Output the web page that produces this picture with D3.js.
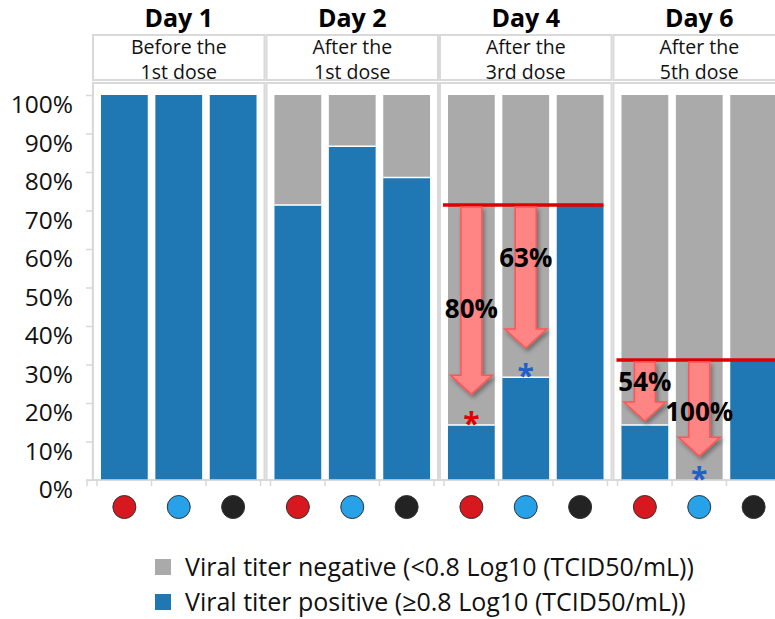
<!DOCTYPE html>
<html>
<head>
<meta charset="utf-8">
<script src="https://cdn.jsdelivr.net/npm/d3@7"></script>
<style>
  body { margin: 0; background: #fff; }
  svg { font-family: 'Open Sans', 'Noto Sans', sans-serif; }
</style>
</head>
<body>
<svg id="chart" width="775" height="619"></svg>
<script>
// panels (days) and their dose subtitles
const days = ['Day 1', 'Day 2', 'Day 4', 'Day 6'];
const doses = [
  ['Before the', '1st dose'],
  ['After the', '1st dose'],
  ['After the', '3rd dose'],
  ['After the', '5th dose']
];
// three groups per day, marked by a coloured dot under each bar
const groupColors = ['#d7191f', '#27a2e8', '#232323'];
// share of animals with positive viral titer (%), [day][group]
const positive = [
  [100, 100, 100],
  [71.4, 86.7, 78.6],
  [14.3, 26.7, 71.4],
  [14.3, 0, 31.2]
];
const yTicks = [0, 10, 20, 30, 40, 50, 60, 70, 80, 90, 100];
// reduction arrows vs. the control group (third bar) of the same day
const reductions = [
  {day: 2, bar: 0, to: 22.3, label: '80%', labelAt: 44.4},
  {day: 2, bar: 1, to: 34.3, label: '63%', labelAt: 57.7},
  {day: 3, bar: 0, to: 15.3, label: '54%', labelAt: 25.5},
  {day: 3, bar: 1, to: 6.2, label: '100%', labelAt: 17.7}
];
// significance markers
const stars = [
  {day: 2, bar: 0, color: '#e00000'},
  {day: 2, bar: 1, color: '#1f5fc8'},
  {day: 3, bar: 1, color: '#1f5fc8'}
];
const legendItems = [
  {label: 'Viral titer negative (<0.8 Log10 (TCID50/mL))', color: '#aaaaaa'},
  {label: 'Viral titer positive (\u22650.8 Log10 (TCID50/mL))', color: '#1f77b4'}
];

const colNeg = '#aaaaaa';
const colPos = '#1f77b4';
const gridCol = '#d9d9d9';

const svg = d3.select('#chart');

const y = d3.scaleLinear().domain([0, 100]).range([480, 95]);
const xDay = d3.scaleBand().domain(d3.range(days.length)).range([92, 786]);
const xBar = d3.scaleBand().domain(d3.range(3)).range([0, xDay.bandwidth()])
  .paddingInner(0.14).paddingOuter(0.165);

const barX = (d, b) => xDay(d) + xBar(b);
const barC = (d, b) => xDay(d) + xBar(b) + xBar.bandwidth() / 2;

// drop shadow for arrows
const defs = svg.append('defs');
const f = defs.append('filter').attr('id', 'shadow')
  .attr('x', '-50%').attr('y', '-20%').attr('width', '200%').attr('height', '150%');
f.append('feDropShadow').attr('dx', 2).attr('dy', 3).attr('stdDeviation', 2)
  .attr('flood-color', '#000').attr('flood-opacity', 0.35);

// panels
const panel = svg.selectAll('g.panel').data(days).join('g')
  .attr('class', 'panel')
  .attr('transform', (d, i) => `translate(${xDay(i)},0)`);

panel.append('rect')
  .attr('x', 1).attr('y', 35)
  .attr('width', xDay.bandwidth() - 2).attr('height', 45)
  .attr('fill', 'none').attr('stroke', gridCol).attr('stroke-width', 2);

panel.append('rect')
  .attr('x', 1).attr('y', 83)
  .attr('width', xDay.bandwidth() - 2).attr('height', y(0) - 83)
  .attr('fill', 'none').attr('stroke', gridCol).attr('stroke-width', 2);

panel.append('text')
  .attr('x', xDay.bandwidth() / 2).attr('y', 27)
  .attr('text-anchor', 'middle')
  .style('font-size', '25px').style('font-weight', 'bold')
  .text(d => d);

panel.each(function(d, i) {
  const g = d3.select(this);
  doses[i].forEach((line, k) => {
    g.append('text')
      .attr('x', xDay.bandwidth() / 2).attr('y', 54 + k * 25)
      .attr('text-anchor', 'middle')
      .style('font-size', '19.5px').attr('fill', '#111')
      .text(line);
  });
});

// stacked bars
const bars = [];
positive.forEach((row, d) => row.forEach((v, b) => bars.push({d, b, v})));

svg.append('g').selectAll('rect').data(bars).join('rect')
  .attr('x', p => barX(p.d, p.b)).attr('width', xBar.bandwidth())
  .attr('y', y(100)).attr('height', p => y(p.v) - y(100))
  .attr('fill', colNeg);

svg.append('g').selectAll('rect').data(bars).join('rect')
  .attr('x', p => barX(p.d, p.b)).attr('width', xBar.bandwidth())
  .attr('y', p => y(p.v)).attr('height', p => y(0) - y(p.v))
  .attr('fill', colPos);

svg.append('g').selectAll('line').data(bars.filter(p => p.v > 0 && p.v < 100)).join('line')
  .attr('x1', p => barX(p.d, p.b)).attr('x2', p => barX(p.d, p.b) + xBar.bandwidth())
  .attr('y1', p => y(p.v)).attr('y2', p => y(p.v))
  .attr('stroke', '#fff').attr('stroke-width', 1.5);

// y axis
const yAxis = svg.append('g')
  .attr('transform', 'translate(92,0)')
  .call(d3.axisLeft(y).tickValues(yTicks).tickFormat(d => d + '%')
    .tickSize(6).tickSizeOuter(0).tickPadding(13));
yAxis.select('.domain').attr('stroke', gridCol).attr('stroke-width', 1.5);
yAxis.selectAll('.tick line').attr('stroke', gridCol).attr('stroke-width', 1.5);
yAxis.selectAll('.tick text')
  .attr('dy', '0.72em')
  .style('font-size', '24.5px').style('font-family', "'Open Sans', sans-serif")
  .attr('fill', '#111');

// baseline and category ticks
svg.append('line')
  .attr('x1', 86).attr('x2', 775).attr('y1', y(0)).attr('y2', y(0))
  .attr('stroke', gridCol).attr('stroke-width', 1.5);

const xTicks = [];
days.forEach((d, i) => {
  xTicks.push(xDay(i) - 5, xDay(i) + 5);
  xTicks.push(barX(i, 1) - xBar.step() * xBar.paddingInner() / 2);
  xTicks.push(barX(i, 2) - xBar.step() * xBar.paddingInner() / 2);
});
svg.append('g').selectAll('line').data(xTicks).join('line')
  .attr('x1', d => d).attr('x2', d => d)
  .attr('y1', y(0)).attr('y2', y(0) + 6)
  .attr('stroke', gridCol).attr('stroke-width', 1.5);

// group dots
svg.append('g').selectAll('circle').data(bars).join('circle')
  .attr('cx', p => barC(p.d, p.b)).attr('cy', 507)
  .attr('r', 11.5)
  .attr('fill', p => groupColors[p.b])
  .attr('stroke', '#333').attr('stroke-width', 1);

// control reference lines (third bar of day)
const refDays = [...new Set(reductions.map(r => r.day))];
svg.append('g').selectAll('line').data(refDays).join('line')
  .attr('x1', d => barX(d, 0) - 5)
  .attr('x2', d => barX(d, 2) + xBar.bandwidth())
  .attr('y1', d => y(positive[d][2])).attr('y2', d => y(positive[d][2]))
  .attr('stroke', '#e00000').attr('stroke-width', 3.5);

// reduction arrows
const shaftW = 21, headW = 42, headL = 19;
function arrowPath(cx, y0, y1) {
  const h = y1 - headL;
  return `M${cx - shaftW / 2},${y0} L${cx + shaftW / 2},${y0} L${cx + shaftW / 2},${h}` +
    ` L${cx + headW / 2},${h} L${cx},${y1} L${cx - headW / 2},${h} L${cx - shaftW / 2},${h} Z`;
}
svg.append('g').selectAll('path').data(reductions).join('path')
  .attr('d', r => arrowPath(barC(r.day, r.bar), y(positive[r.day][2]) + 2, y(r.to)))
  .attr('fill', '#ff8585').attr('stroke', '#ff5555').attr('stroke-width', 1.5)
  .attr('filter', 'url(#shadow)');

svg.append('g').selectAll('text').data(reductions).join('text')
  .attr('x', r => barC(r.day, r.bar)).attr('y', r => y(r.labelAt))
  .attr('dy', '0.36em')
  .attr('text-anchor', 'middle')
  .style('font-size', '26px').style('font-weight', 'bold')
  .attr('fill', '#000')
  .text(r => r.label);

// asterisks above the treated bars
svg.append('g').selectAll('text').data(stars).join('text')
  .attr('x', s => barC(s.day, s.bar)).attr('y', s => y(positive[s.day][s.bar]) + 9)
  .attr('text-anchor', 'middle')
  .style('font-size', '30px').style('font-weight', 'bold')
  .attr('fill', s => s.color)
  .text('*');

// legend
const legend = svg.append('g').attr('transform', 'translate(155,567)');
const li = legend.selectAll('g').data(legendItems).join('g')
  .attr('transform', (d, i) => `translate(0,${i * 35})`);
li.append('rect').attr('x', 0).attr('y', -8).attr('width', 16).attr('height', 16)
  .attr('fill', d => d.color);
li.append('text').attr('x', 30).attr('dy', '0.36em')
  .style('font-size', '25px').attr('fill', '#111')
  .text(d => d.label);
</script>
</body>
</html>
